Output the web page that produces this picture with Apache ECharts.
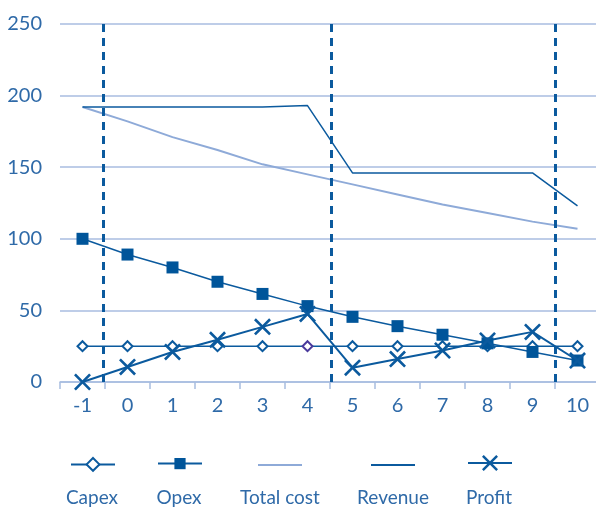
<!DOCTYPE html>
<html>
<head>
<meta charset="utf-8">
<script src="https://cdn.jsdelivr.net/npm/echarts@6/dist/echarts.min.js"></script>
<style>
  html, body { margin: 0; padding: 0; background: #fff; overflow: hidden; }
  #chart { width: 600px; height: 508px; }
</style>
</head>
<body>
<div id="chart"></div>
<script>
// Years of the project, from -1 (construction) to 10
const years = ['-1', '0', '1', '2', '3', '4', '5', '6', '7', '8', '9', '10'];

const capex     = [25, 25, 25, 25, 25, 25, 25, 25, 25, 25, 25, 25];
const opex      = [100, 89, 80, 70, 61.5, 53, 45.5, 39, 33, 27, 21, 15];
const totalCost = [192, 182, 171, 162, 152, 145, 138, 131, 124, 118, 112, 107];
const revenue   = [192, 192, 192, 192, 192, 193, 146, 146, 146, 146, 146, 123];
const profit    = [0, 10.5, 21, 29.5, 38.5, 47.5, 10, 16, 22, 29, 35, 15];

// Phase boundaries (in year units)
const phaseBounds = [-0.54, 4.52, 9.5];

const yTicks = { min: 0, max: 250, interval: 50 };

const dark = '#0b5a9e';
const light = '#8eaad8';
const grid = '#a8bde0';
const textBlue = '#2f6aa8';
const font = 'Lato';

// Filled cross marker
const crossPath = 'path://M0,2.2L2.2,0L10,7.8L17.8,0L20,2.2L12.2,10L20,17.8L17.8,20L10,12.2L2.2,20L0,17.8L7.8,10Z';

const legendItems = [
  { name: 'Capex', x: 92, h: 16 },
  { name: 'Opex', x: 179, h: 14 },
  { name: 'Total cost', x: 280, h: 2, color: light },
  { name: 'Revenue', x: 393, h: 2, color: dark },
  { name: 'Profit', x: 489, h: 20 }
];
const legendY = 465;

const chart = echarts.init(document.getElementById('chart'));

const option = {
  animation: false,
  backgroundColor: '#fff',
  grid: { left: 60, right: 0, top: 24, bottom: 126, containLabel: false },
  xAxis: [
    {
      type: 'category',
      data: years,
      boundaryGap: true,
      axisLine: { show: true, lineStyle: { color: grid, width: 1.5 } },
      axisTick: { show: true, length: 7, lineStyle: { color: grid, width: 1.5 } },
      axisLabel: { color: textBlue, fontFamily: font, fontSize: 20, margin: 14 },
      splitLine: { show: false }
    },
    {
      type: 'value',
      min: -1.5,
      max: 10.5,
      show: false
    }
  ],
  yAxis: {
    type: 'value',
    min: yTicks.min,
    max: yTicks.max,
    interval: yTicks.interval,
    axisLine: { show: false },
    axisTick: { show: false },
    axisLabel: { color: textBlue, fontFamily: font, fontSize: 20, margin: 18 },
    splitLine: { show: true, lineStyle: { color: grid, width: 1.5 } }
  },
  legend: legendItems.map((it) => {
    const l = {
      data: [it.name],
      left: it.x - 22 - 5,
      top: legendY - it.h / 2 - 5,
      itemWidth: 44,
      itemHeight: it.h,
      itemGap: 0,
      formatter: () => '',
      selectedMode: false,
      textStyle: { fontSize: 1, lineHeight: 1 }
    };
    if (it.color) {
      l.icon = 'rect';
      l.itemStyle = { color: it.color };
    }
    return l;
  }),
  graphic: legendItems.map((it) => ({
    type: 'text',
    x: it.x,
    y: 498,
    style: {
      text: it.name,
      fill: textBlue,
      font: '19px ' + font,
      textAlign: 'center',
      textVerticalAlign: 'middle'
    }
  })),
  series: [
    {
      name: 'phases',
      type: 'line',
      xAxisIndex: 1,
      data: [],
      silent: true,
      markLine: {
        silent: true,
        symbol: 'none',
        label: { show: false },
        lineStyle: { color: dark, width: 3, type: [8, 6] },
        data: phaseBounds.map((v) => ({ xAxis: v }))
      }
    },
    {
      name: 'Total cost',
      type: 'line',
      data: totalCost,
      symbol: 'none',
      lineStyle: { color: light, width: 2 },
      itemStyle: { color: light }
    },
    {
      name: 'Revenue',
      type: 'line',
      data: revenue,
      symbol: 'none',
      lineStyle: { color: dark, width: 1.5 },
      itemStyle: { color: dark }
    },
    {
      name: 'Capex',
      type: 'line',
      data: capex.map((v, i) => (i === 5 ? { value: v, itemStyle: { borderColor: '#4a3a9c' } } : v)),
      symbol: 'diamond',
      symbolSize: 10,
      lineStyle: { color: dark, width: 1.5 },
      itemStyle: { color: '#fff', borderColor: dark, borderWidth: 2 }
    },
    {
      name: 'Opex',
      type: 'line',
      data: opex,
      symbol: 'rect',
      symbolSize: 12,
      lineStyle: { color: dark, width: 1.5 },
      itemStyle: { color: '#00559a' }
    },
    {
      name: 'Profit',
      type: 'line',
      data: profit,
      symbol: crossPath,
      symbolSize: 17,
      lineStyle: { color: dark, width: 2 },
      itemStyle: { color: dark }
    }
  ]
};

chart.setOption(option);
</script>
</body>
</html>
